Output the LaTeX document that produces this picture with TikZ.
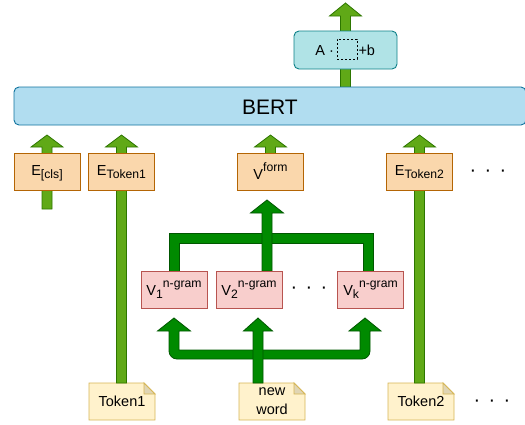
\documentclass[tikz,border=0pt]{standalone}
\usepackage{fontspec}
\setmainfont{Liberation Sans}
\usetikzlibrary{calc,backgrounds}

\definecolor{lgfill}{HTML}{60A917}
\definecolor{lgline}{HTML}{2D7600}
\definecolor{dgfill}{HTML}{008A00}
\definecolor{dgline}{HTML}{005700}
\definecolor{orfill}{HTML}{FAD7AC}
\definecolor{orline}{HTML}{B46504}
\definecolor{pkfill}{HTML}{F8CECC}
\definecolor{pkline}{HTML}{B85450}
\definecolor{ntfill}{HTML}{FFF2CC}
\definecolor{ntline}{HTML}{D6B656}
\definecolor{blfill}{HTML}{B1DDF0}
\definecolor{blline}{HTML}{10739E}
\definecolor{tlfill}{HTML}{B0E3E6}
\definecolor{tlline}{HTML}{0E8088}

% lowered / raised label parts
\newcommand\lowr[1]{\raisebox{-3.5pt}{\fontsize{12.2}{14}\selectfont #1}}
\newcommand\uppr[1]{\raisebox{7.5pt}{\fontsize{12.2}{14}\selectfont #1}}

% upward block arrow: style, tail, tip, head half-width, head length
\newcommand\flexarrow[5]{%
  \path[#1] let \p1=#2, \p2=#3 in
    (\x1-5pt,\y1) -- (\x1-5pt,\y2-#5pt) -- (\x1-#4pt,\y2-#5pt) -- (\x1,\y2)
    -- (\x1+#4pt,\y2-#5pt) -- (\x1+5pt,\y2-#5pt) -- (\x1+5pt,\y1) -- cycle;}

% folded-corner note outline behind a node
\newcommand\notebg[1]{%
  \path[noteshape] (#1.north west) -- ($(#1.north east)+(-11,0)$)
    -- ($(#1.north east)+(0,11)$) -- (#1.south east) -- (#1.south west) -- cycle;
  \path[notefold] ($(#1.north east)+(-11,0)$) -- ($(#1.north east)+(-11,11)$)
    -- ($(#1.north east)+(0,11)$) -- cycle;}

\begin{document}
\begin{tikzpicture}[x=1pt,y=-1pt,
  every node/.style={inner sep=0pt,outer sep=0pt,text=black},
  smallfont/.style={font=\fontsize{14.5}{19}\selectfont},
  embed/.style={smallfont,draw=orline,fill=orfill,line width=0.9pt,
    minimum width=66pt,minimum height=37pt,text depth=0pt},
  ngram/.style={smallfont,draw=pkline,fill=pkfill,line width=0.9pt,
    minimum width=66pt,minimum height=37pt,text depth=0pt},
  notebox/.style={smallfont,minimum width=66pt,minimum height=37pt},
  noteshape/.style={draw=ntline,fill=ntfill,line width=0.9pt,line join=miter},
  notefold/.style={draw=ntline,fill=ntfill!88!black,line width=0.9pt,line join=miter},
  bertbox/.style={draw=blline,fill=blfill,line width=0.9pt,rounded corners=5pt,
    minimum width=512pt,minimum height=38pt,font=\fontsize{21}{25}\selectfont,
    text height=16pt,text depth=0pt},
  affine/.style={draw=tlline,fill=tlfill,line width=0.9pt,rounded corners=5pt,
    minimum width=103pt,minimum height=38pt},
  slotbox/.style={draw=black,dash pattern=on 2pt off 2pt,line width=0.7pt,
    minimum width=20pt,minimum height=20pt},
  dotrow/.style={font=\fontsize{20}{22}\selectfont},
  lgarrow/.style={fill=lgfill,draw=lgline,line width=0.8pt,line join=miter},
  dgarrow/.style={fill=dgfill,draw=dgline,line width=0.8pt,line join=miter}]

\useasboundingbox (0,0) rectangle (525,424);

% encoder
\node[bertbox] (bert) at (270,106) {BERT};

% output head
\node[affine] (abox) at (345.5,50) {};
\node[slotbox] (slot) at (347,49) {};
\node[smallfont,anchor=base east] (amul) at ($(slot.west)+(-3,6)$) {A ·};
\node[smallfont,anchor=base west] (aplus) at ($(slot.east)+(1.5,6)$) {+b};

% input embeddings
\node[embed,text height=7pt] (ecls) at (47,171.5) {E\lowr{[cls]}};
\node[embed,text height=7pt] (etok1) at (121.5,171.5) {E\lowr{Token1}};
\node[embed,text height=15pt] (vform) at (270.5,171.5) {V\uppr{form}};
\node[embed,text height=7pt] (etok2) at (419.5,171.5) {E\lowr{Token2}};
\node[dotrow,anchor=base] (dots1) at (488,176.5) {·\hspace{8.3pt}·\hspace{8.3pt}·};

% n-gram vectors
\node[ngram,text height=11pt] (v1) at (174,289.5) {V\lowr{1}\uppr{n-gram}};
\node[ngram,text height=11pt] (v2) at (249,289.5) {V\lowr{2}\uppr{n-gram}};
\node[ngram,text height=11pt] (vk) at (370.5,289.5) {V\lowr{k}\uppr{n-gram}};
\node[dotrow,anchor=base] (dots2) at (309,293.5) {·\hspace{8.3pt}·\hspace{8.3pt}·};

% input tokens
\node[notebox,text height=9pt,text depth=0pt] (tok1) at (122,401.5) {Token1};
\node[notebox,align=center] (nw) at (272,401.5) {new\\word};
\node[notebox,text height=9pt,text depth=0pt] (tok2) at (421,401.5) {Token2};
\node[dotrow,anchor=base] (dots3) at (492,406.5) {·\hspace{8.3pt}·\hspace{8.3pt}·};

\coordinate (clsfoot) at ($(ecls.south)+(0,19)$);

\begin{pgfonlayer}{background}
  \notebg{tok1}
  \notebg{nw}
  \notebg{tok2}

  % light green block arrows into the encoder and out of it
  \flexarrow{lgarrow}{(clsfoot)}{($(ecls.north)+(0,-18)$)}{16}{12}
  \flexarrow{lgarrow}{(etok1 |- tok1.north)}{($(etok1.north)+(0,-18)$)}{16}{12}
  \flexarrow{lgarrow}{(vform.center)}{($(vform.north)+(0,-18)$)}{16}{12}
  \flexarrow{lgarrow}{(etok2 |- tok2.north)}{($(etok2.north)+(0,-18)$)}{16}{12}
  \flexarrow{lgarrow}{(abox |- bert.center)}{($(abox.north)+(0,-28)$)}{16}{13}

  % n-gram vectors merged into V^form
  \path[dgarrow] ($(v1.north)+(-5,0)$) -- ++(0,-38) -- ($(vk.north)+(2.5,-38)$)
    -- ++(0,38) -- ++(-10,0) -- ++(0,-28) -- ($(v1.north)+(5,-28)$) -- ++(0,28) -- cycle;
  \flexarrow{dgarrow}{($(v2.north east)+(-15,0)$)}{($(vform.south)+(-3.5,10)$)}{16.5}{13}

  % new word split into n-grams
  \path[dgarrow] ($(v1.south)+(0,10)$) -- ++(16.5,13) -- ++(-11.5,0) -- ++(0,19)
    -- ($(vk.south)+(-10.5,42)$) -- ++(0,-19) -- ++(-11,0) -- ++(16,-13)
    -- ++(16,13) -- ++(-11,0) -- ++(0,20)
    .. controls +(0,4.4) and +(4.4,0) .. ++(-8,8)
    -- ($(v1.south)+(3,51)$)
    .. controls +(-4.4,0) and +(0,4.4) .. ++(-8,-8)
    -- ++(0,-20) -- ++(-11.5,0) -- cycle;
  \flexarrow{dgarrow}{($(nw.north west)+(19,0)$)}{($(v2.south)+(0,10)$)}{14.5}{13}
\end{pgfonlayer}
\end{tikzpicture}
\end{document}
